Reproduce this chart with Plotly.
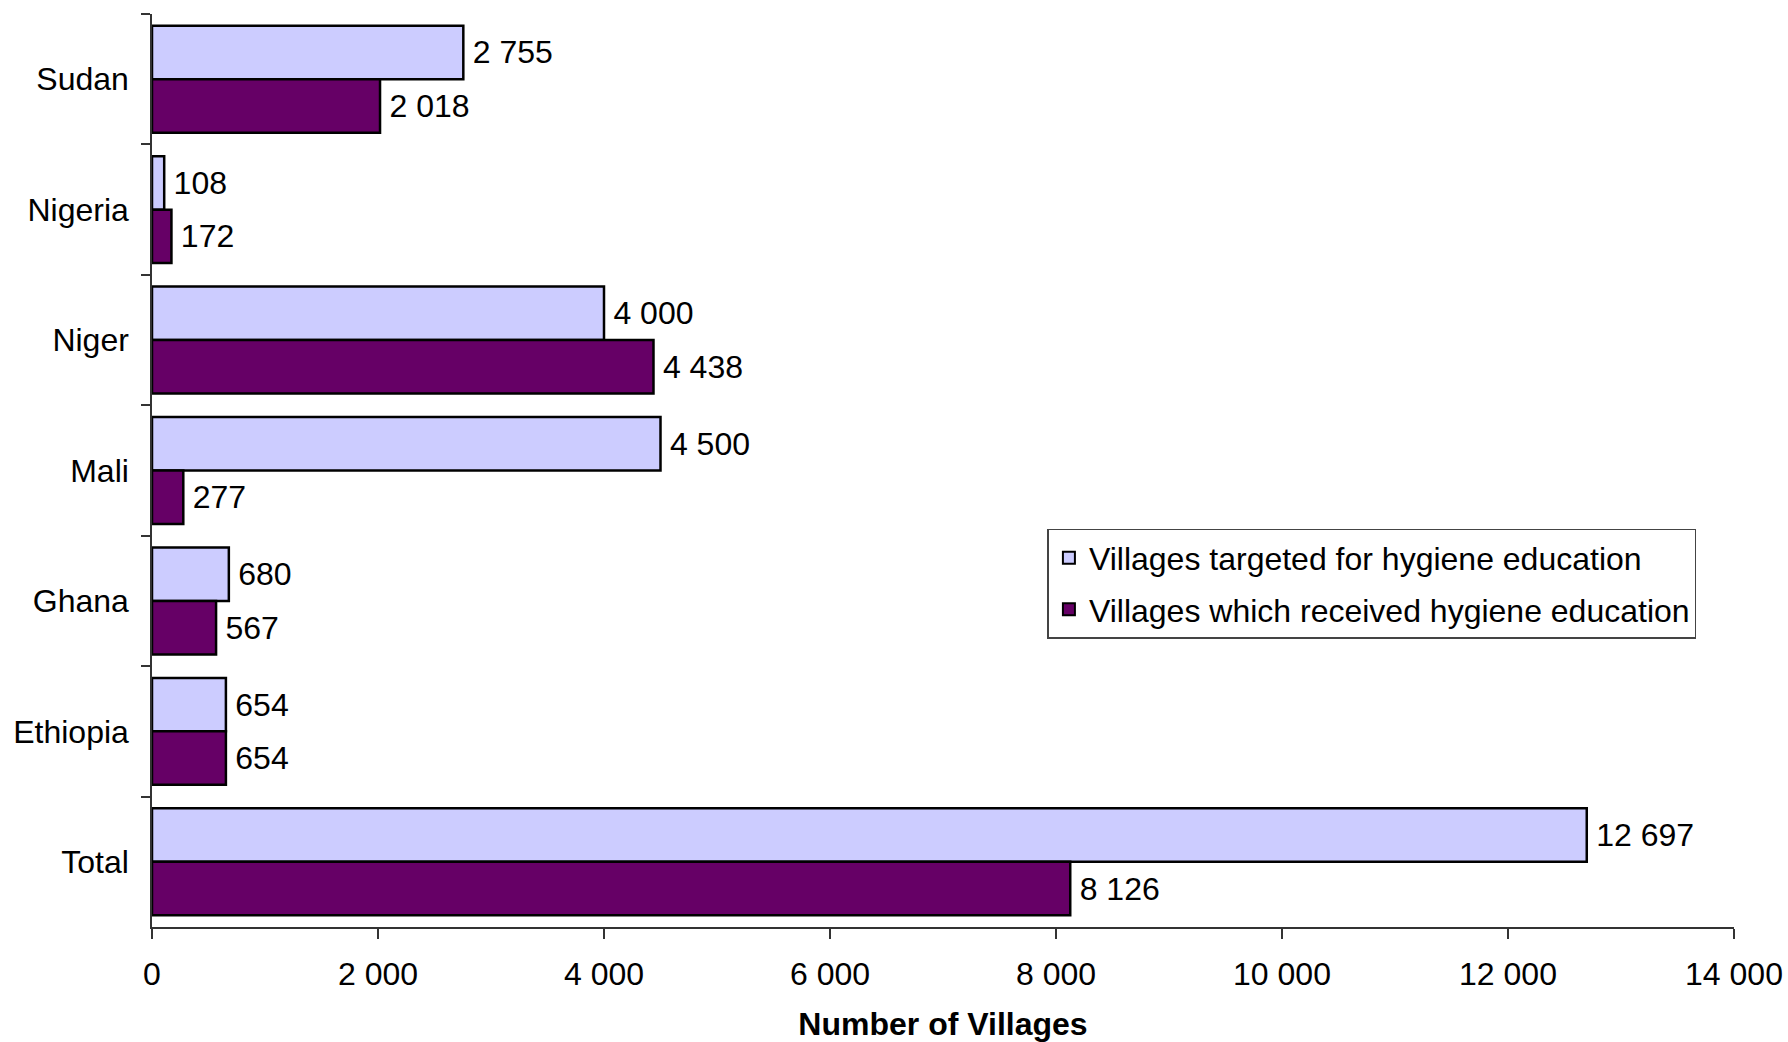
import plotly.graph_objects as go

countries = ["Sudan", "Nigeria", "Niger", "Mali", "Ghana", "Ethiopia", "Total"]
targeted = [2755, 108, 4000, 4500, 680, 654, 12697]
received = [2018, 172, 4438, 277, 567, 654, 8126]
x_ticks = [0, 2000, 4000, 6000, 8000, 10000, 12000, 14000]

FONT = "Liberation Sans, Arial, sans-serif"
FS = 32

fig = go.Figure()
fig.add_trace(go.Bar(
    y=countries, x=targeted, orientation="h",
    name="Villages targeted for hygiene education", legendgroup="a",
    marker=dict(color="#CCCCFF", line=dict(color="black", width=2.5)),
    texttemplate="\u2009%{x:,}", textposition="outside", constraintext="none",
    textfont=dict(size=FS, color="black", family=FONT), cliponaxis=False,
))
fig.add_trace(go.Bar(
    y=countries, x=received, orientation="h",
    name="Villages which received hygiene education", legendgroup="b",
    marker=dict(color="#660066", line=dict(color="black", width=2.5)),
    texttemplate="\u2009%{x:,}", textposition="outside", constraintext="none",
    textfont=dict(size=FS, color="black", family=FONT), cliponaxis=False,
))

fig.update_layout(
    width=1788, height=1042,
    paper_bgcolor="white", plot_bgcolor="white",
    separators=". ",
    barmode="group", bargap=0.18, bargroupgap=0,
    margin=dict(l=152, r=54, t=14, b=115),
    font=dict(family=FONT, size=FS, color="black"),
    showlegend=True,
    legend=dict(
        x=0.566, y=0.436, xanchor="left", yanchor="top",
        bgcolor="white", bordercolor="#444444", borderwidth=1.5,
        font=dict(size=FS, family=FONT, color="black"),
        traceorder="grouped", itemsizing="constant",
        tracegroupgap=7,
    ),
    xaxis=dict(
        range=[0, 14000], tickvals=x_ticks, tickformat=",",
        showgrid=False, zeroline=False, automargin=False,
        showline=True, linecolor="#333333", linewidth=1.5,
        ticks="outside", ticklen=10, tickcolor="#333333", tickwidth=1.5,
        ticklabelstandoff=8,
        tickfont=dict(size=FS, family=FONT, color="black"),
        title=dict(text="<b>Number of Villages</b>", standoff=24,
                   font=dict(size=FS, family=FONT, color="black")),
    ),
    yaxis=dict(
        categoryorder="array", categoryarray=countries,
        autorange="reversed", automargin=False,
        showgrid=False, zeroline=False,
        showline=True, linecolor="#333333", linewidth=1.5,
        ticks="outside", ticklen=9, tickcolor="#333333", tickwidth=1.5,
        tickson="boundaries",
        tickfont=dict(size=FS, family=FONT, color="black"),
        ticklabelstandoff=15,
    ),
)

fig.write_html("out.html", config={"displayModeBar": False},
               post_script="document.body.style.margin='0';")
